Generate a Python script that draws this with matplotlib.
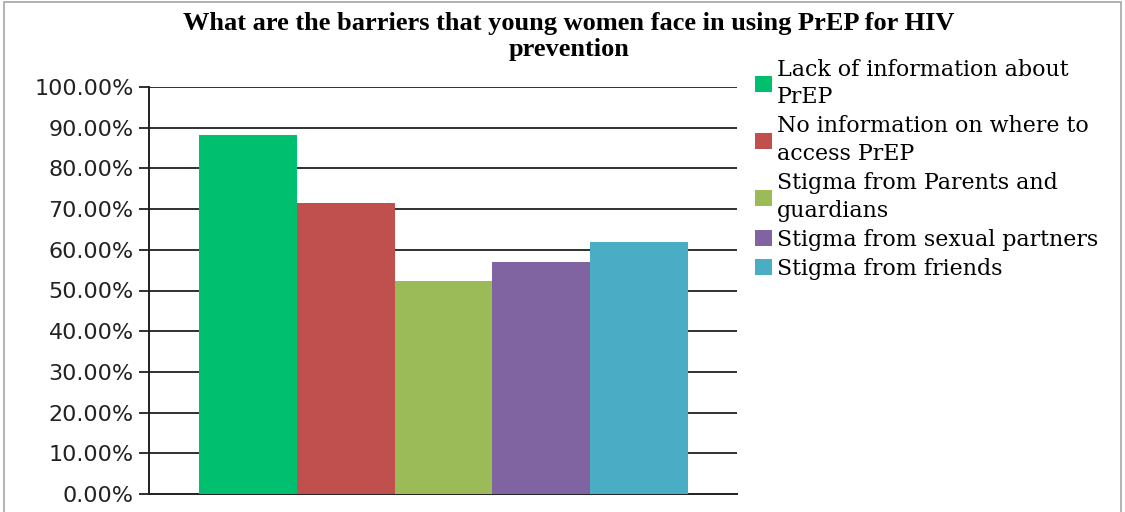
import matplotlib
matplotlib.use("Agg")
import matplotlib.pyplot as plt
from matplotlib.patches import Rectangle, Patch
from matplotlib.ticker import FuncFormatter

categories = ["Lack of information about\nPrEP",
              "No information on where to\naccess PrEP",
              "Stigma from Parents and\nguardians",
              "Stigma from sexual partners",
              "Stigma from friends"]
values = [0.882, 0.714, 0.523, 0.571, 0.620]
colors = ["#00BF6F", "#C0504D", "#9BBB59", "#8064A2", "#4BACC6"]
yticks = [0.0, 0.1, 0.2, 0.3, 0.4, 0.5, 0.6, 0.7, 0.8, 0.9, 1.0]
title = "What are the barriers that young women face in using PrEP for HIV\nprevention"

fig = plt.figure(figsize=(11.25, 5.12), dpi=100)
ax = fig.add_axes([149/1125, 18/512, (737-149)/1125, (494-87)/512])

xs = list(range(len(values)))
bars = ax.bar(xs, values, width=1.0, color=colors, zorder=3, linewidth=0)

ax.set_ylim(0, 1.0)
ax.set_xlim(-1.01, 5.0)
ax.set_yticks(yticks)
ax.yaxis.set_major_formatter(FuncFormatter(lambda v, p: f"{v*100:.2f}%"))
ax.set_xticks([])
for v in yticks[1:]:
    ax.axhline(v, color="#303030", lw=1.4, zorder=1)
for s in ["top", "right"]:
    ax.spines[s].set_visible(False)
ax.spines["left"].set_color("#202020")
ax.spines["left"].set_linewidth(1.4)
ax.spines["bottom"].set_color("#202020")
ax.spines["bottom"].set_linewidth(1.4)
ax.tick_params(axis="y", direction="out", length=7.5, width=1.3, color="#202020",
               labelsize=16, pad=3.5)
for lab in ax.get_yticklabels():
    lab.set_fontfamily("DejaVu Sans")
    lab.set_color("#222222")

fig.text(569/1125, 1 - 36.5/512, title, ha="center", va="center",
         fontfamily="Liberation Serif", fontweight="bold", fontsize=19,
         linespacing=1.16)

handles = [Patch(facecolor=c, edgecolor="none") for c in colors]
leg = fig.legend(handles, categories, loc="upper left",
                 bbox_to_anchor=(755/1125, 1 - 58.5/512), frameon=False,
                 prop={"family": "DejaVu Serif", "size": 15.9},
                 handlelength=0.78, handleheight=0.73, handletextpad=0.2,
                 labelspacing=0.32, borderaxespad=0, borderpad=0)
for t in leg.get_texts():
    t.set_linespacing(1.34)

fig.patches.append(Rectangle((4/1125, -0.01), 1 - 8/1125, 1 - 2/512 + 0.01,
                             transform=fig.transFigure, fill=False,
                             edgecolor="#a6a6a6", lw=1.2))

fig.savefig("out.png", dpi=100)
